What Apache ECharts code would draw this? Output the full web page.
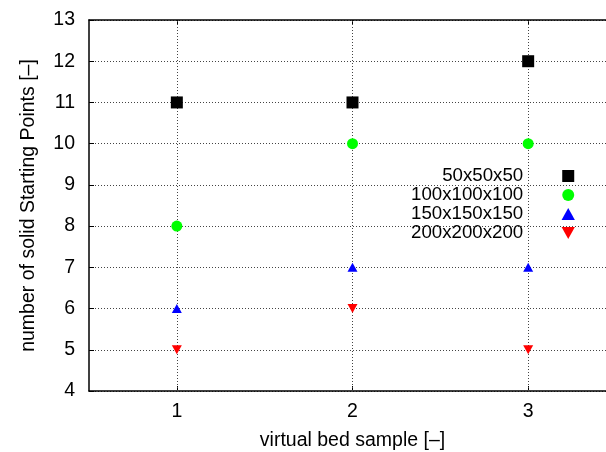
<!DOCTYPE html>
<html>
<head>
<meta charset="utf-8">
<script src="https://cdn.jsdelivr.net/npm/echarts@6/dist/echarts.min.js"></script>
<style>
  html, body { margin: 0; padding: 0; background: #fff; }
  #chart { width: 606px; height: 452px; }
</style>
</head>
<body>
<div id="chart"></div>
<script>
// Virtual bed samples along x
const samples = ['1', '2', '3'];
// Number of solid starting points per grid resolution
const names = ['50x50x50', '100x100x100', '150x150x150', '200x200x200'];
const res50 = [11, 11, 12];
const res100 = [8, 10, 10];
const res150 = [6, 7, 7];
const res200 = [5, 6, 5];
const yTicks = { min: 4, max: 13, step: 1 };

const square = 'path://M0,0L10,0L10,10L0,10Z';
const downTriangle = 'path://M0,0L10,0L5,9Z';
const upTriangle = 'path://M5,0L10,9L0,9Z';

const font = 'Liberation Sans, Arial, Helvetica, sans-serif';
const fs = 19.5;
const chart = echarts.init(document.getElementById('chart'), null, { renderer: 'canvas' });

const gridDots = { color: '#444', width: 1, type: [1, 2] };

chart.setOption({
  animation: false,
  textStyle: { fontFamily: font },
  grid: { left: 89, top: 20, width: 527, height: 371, containLabel: false, outerBoundsMode: 'none' },
  legend: {
    orient: 'vertical',
    align: 'right',
    left: 406,
    top: 161.5,
    padding: 5,
    itemWidth: 80,
    itemHeight: 12,
    itemGap: 0,
    textStyle: { fontFamily: font, fontSize: 18.7, color: '#000' },
    data: [
      { name: names[0], icon: square },
      { name: names[1], icon: 'circle' },
      { name: names[2], icon: upTriangle },
      { name: names[3], icon: downTriangle }
    ]
  },
  xAxis: [
    {
      type: 'category',
      data: samples,
      position: 'bottom',
      name: 'virtual bed sample [–]',
      nameLocation: 'middle',
      nameGap: 40,
      nameTextStyle: { fontFamily: font, fontSize: fs, color: '#000' },
      axisLine: { show: true, lineStyle: { color: '#000', width: 1.5 } },
      axisTick: { show: true, inside: true, length: 5, alignWithLabel: true, lineStyle: { color: '#000' } },
      axisLabel: { fontFamily: font, fontSize: fs, color: '#000', margin: 11 },
      splitLine: { show: false }
    },
    {
      type: 'category',
      data: samples,
      position: 'top',
      axisLine: { show: true, lineStyle: { color: '#000', width: 1.5 } },
      axisTick: { show: true, inside: true, length: 5, alignWithLabel: true, lineStyle: { color: '#000' } },
      axisLabel: { show: false },
      splitLine: { show: false }
    }
  ],
  yAxis: {
    type: 'value',
    min: yTicks.min,
    max: yTicks.max,
    interval: yTicks.step,
    name: 'number of solid Starting Points [–]',
    nameLocation: 'middle',
    nameGap: 50,
    nameTextStyle: { fontFamily: font, fontSize: fs, color: '#000' },
    axisLine: { show: true, lineStyle: { color: '#000', width: 1.5 } },
    axisTick: { show: true, inside: true, length: 5, lineStyle: { color: '#000' } },
    axisLabel: { fontFamily: font, fontSize: fs, color: '#000', margin: 14 },
    splitLine: { show: true, lineStyle: gridDots }
  },
  series: [
    {
      // vertical dotted grid lines at each sample
      type: 'scatter',
      z: 0,
      data: [],
      markLine: {
        silent: true,
        symbol: ['none', 'none'],
        label: { show: false },
        lineStyle: gridDots,
        data: samples.map(s => ({ xAxis: s }))
      }
    },
    {
      name: names[0], type: 'scatter', data: res50,
      symbol: 'rect', symbolSize: 12,
      itemStyle: { color: '#000000', opacity: 1 }, z: 5
    },
    {
      name: names[1], type: 'scatter', data: res100,
      symbol: 'circle', symbolSize: 11,
      itemStyle: { color: '#00ff00', opacity: 1 }, z: 5
    },
    {
      name: names[2], type: 'scatter', data: res150,
      symbol: upTriangle, symbolSize: [10, 9],
      itemStyle: { color: '#0000ff', opacity: 1 }, z: 5
    },
    {
      name: names[3], type: 'scatter', data: res200,
      symbol: downTriangle, symbolSize: [10, 9],
      itemStyle: { color: '#ff0000', opacity: 1 }, z: 5
    }
  ]
});
</script>
</body>
</html>
